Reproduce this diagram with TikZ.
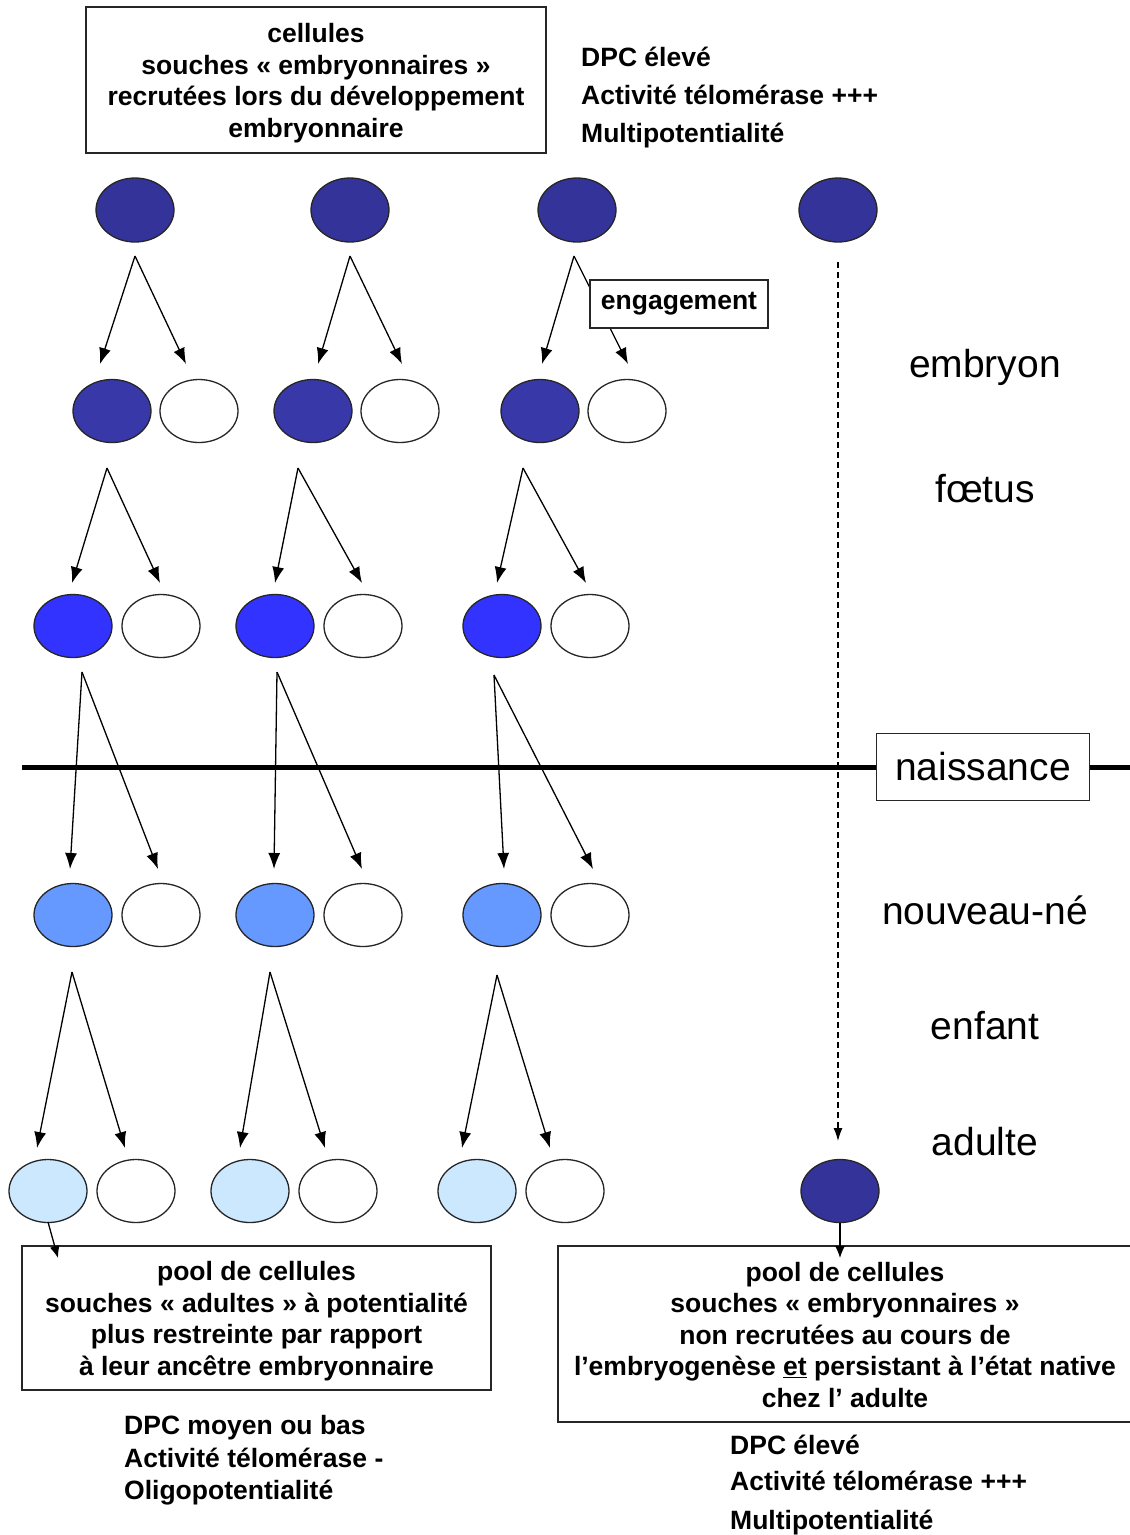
\documentclass[tikz,border=0pt]{standalone}
\usepackage{fontspec}
\setmainfont{Liberation Sans}
\usetikzlibrary{shapes.geometric,arrows.meta}
\definecolor{navy}{HTML}{333399}
\definecolor{navyb}{HTML}{3838A8}
\definecolor{bluec}{HTML}{3333FF}
\definecolor{bluem}{HTML}{6699FF}
\definecolor{bluel}{HTML}{CCE8FF}
\tikzset{
  cell/.style={ellipse, draw=black!85, line width=1.3pt, minimum width=78pt, minimum height=63pt, inner sep=0pt},
  arr/.style={line width=1.3pt, -{Latex[length=16pt,width=12pt]}},
  boxtxt/.style={font=\bfseries\fontsize{26.5}{31.5}\selectfont, align=center, inner sep=0pt},
  framebox/.style={draw=black!85, line width=1.5pt, fill=white},
  lbl/.style={font=\fontsize{39}{47}\selectfont, anchor=base, inner sep=0pt},
  info/.style={font=\bfseries\fontsize{26.5}{32}\selectfont, anchor=base west, inner sep=0pt},
}
\begin{document}
\begin{tikzpicture}[x=1pt,y=-1pt]
\useasboundingbox[fill=white] (0,0) rectangle (1130,1535);

% top box and info
\node[framebox, minimum width=460pt, minimum height=146pt] (topbox) at (316,80) {};
\node[boxtxt] (toptxt) at (316,83)
  {cellules\\souches « embryonnaires »\\recrutées lors du développement\\embryonnaire};
\node[info] (ti1) at (581,66) {DPC élevé};
\node[info] (ti2) at (581,104) {Activité télomérase +++};
\node[info] (ti3) at (581,142) {Multipotentialité};

% row 1
\node[cell, fill=navy, minimum height=64pt] (r1a) at (135,210) {};
\node[cell, fill=navy, minimum height=64pt] (r1b) at (350,210) {};
\node[cell, fill=navy, minimum height=64pt] (r1c) at (577,210) {};
\node[cell, fill=navy, minimum height=64pt] (r1d) at (838,210) {};

% row 2
\node[cell, fill=navyb] (e2a) at (112,411) {};
\node[cell, fill=white] (w2a) at (199,411) {};
\node[cell, fill=navyb] (e2b) at (313,411) {};
\node[cell, fill=white] (w2b) at (400,411) {};
\node[cell, fill=navyb] (e2c) at (540,411) {};
\node[cell, fill=white] (w2c) at (627,411) {};

% row 3
\node[cell, fill=bluec] (e3a) at (73,626) {};
\node[cell, fill=white] (w3a) at (161,626) {};
\node[cell, fill=bluec] (e3b) at (275,626) {};
\node[cell, fill=white] (w3b) at (363,626) {};
\node[cell, fill=bluec] (e3c) at (502,626) {};
\node[cell, fill=white] (w3c) at (590,626) {};

% row 4
\node[cell, fill=bluem] (e4a) at (73,915) {};
\node[cell, fill=white] (w4a) at (161,915) {};
\node[cell, fill=bluem] (e4b) at (275,915) {};
\node[cell, fill=white] (w4b) at (363,915) {};
\node[cell, fill=bluem] (e4c) at (502,915) {};
\node[cell, fill=white] (w4c) at (590,915) {};

% row 5
\node[cell, fill=bluel] (e5a) at (48,1191) {};
\node[cell, fill=white] (w5a) at (136,1191) {};
\node[cell, fill=bluel] (e5b) at (250,1191) {};
\node[cell, fill=white] (w5b) at (338,1191) {};
\node[cell, fill=bluel] (e5c) at (477,1191) {};
\node[cell, fill=white] (w5c) at (565,1191) {};
\node[cell, fill=navy] (r5d) at (840,1191) {};

% arrow coordinates
\coordinate (p1a) at (135,256); \coordinate (q1a) at (100,364); \coordinate (s1a) at (186,364);
\coordinate (p1b) at (350,256); \coordinate (q1b) at (318,364); \coordinate (s1b) at (402,364);
\coordinate (p1c) at (574,256); \coordinate (q1c) at (542,364); \coordinate (s1c) at (628,364);
\coordinate (p2a) at (107,468); \coordinate (q2a) at (72,583);  \coordinate (s2a) at (160,583);
\coordinate (p2b) at (298,468); \coordinate (q2b) at (275,583); \coordinate (s2b) at (362,583);
\coordinate (p2c) at (523,468); \coordinate (q2c) at (497,583); \coordinate (s2c) at (586,583);
\coordinate (p3a) at (82,672);  \coordinate (q3a) at (70,869);  \coordinate (s3a) at (158,869);
\coordinate (p3b) at (277,672); \coordinate (q3b) at (274,869); \coordinate (s3b) at (362,869);
\coordinate (p3c) at (494,675); \coordinate (q3c) at (504,869); \coordinate (s3c) at (593,869);
\coordinate (p4a) at (72,972);  \coordinate (q4a) at (37,1148); \coordinate (s4a) at (125,1148);
\coordinate (p4b) at (270,972); \coordinate (q4b) at (240,1148); \coordinate (s4b) at (325,1148);
\coordinate (p4c) at (497,975); \coordinate (q4c) at (462,1148); \coordinate (s4c) at (550,1148);

\foreach \r in {1,2,3,4}{
  \foreach \c in {a,b,c}{
    \draw[arr] (p\r\c) -- (q\r\c);
    \draw[arr] (p\r\c) -- (s\r\c);
  }
}

% dashed line
\coordinate (dtop) at (838,262);
\coordinate (dbot) at (838,1141);
\draw[line width=1.2pt, dash pattern=on 6pt off 4pt, -{Latex[length=13pt,width=9pt]}] (dtop) -- (dbot);

% engagement label
\node[framebox, font=\bfseries\fontsize{26.5}{31.5}\selectfont, minimum width=178pt, minimum height=48pt, inner sep=0pt] (eng) at (679,304) {engagement};

% birth line
\coordinate (bl) at (22,767);
\coordinate (br) at (1130,767);
\draw[line width=5pt] (bl) -- (br);
\node[framebox, font=\fontsize{39}{47}\selectfont, minimum width=213pt, minimum height=67pt, inner sep=0pt] (naiss) at (983,767) {naissance};

% stage labels
\node[lbl] (lemb) at (985,377) {embryon};
\node[lbl] (lfoe) at (985,502) {fœtus};
\node[lbl] (lnn) at (985,924) {nouveau-né};
\node[lbl] (lenf) at (985,1039) {enfant};
\node[lbl] (lad) at (985,1155) {adulte};

% bottom left box
\node[framebox, minimum width=469pt, minimum height=144pt] (botL) at (256.5,1318) {};
\node[boxtxt] (botLtxt) at (256.5,1321)
  {pool de cellules\\souches « adultes » à potentialité\\plus restreinte par rapport\\à leur ancêtre embryonnaire};
\node[info] (bl1) at (124,1434) {DPC moyen ou bas};
\node[info] (bl2) at (124,1467) {Activité télomérase -};
\node[info] (bl3) at (124,1499) {Oligopotentialité};

% bottom right box (open on the right edge)
\draw[draw=black!85, line width=1.5pt] (1130,1246) -- (558,1246) -- (558,1422) -- (1130,1422);
\node[boxtxt] (botR) at (845,1335)
  {pool de cellules\\souches « embryonnaires »\\non recrutées au cours de\\l’embryogenèse \underline{et} persistant à l’état native\\chez l’ adulte};
\node[info] (br1) at (730,1454) {DPC élevé};
\node[info] (br2) at (730,1490) {Activité télomérase +++};
\node[info] (br3) at (730,1529) {Multipotentialité};

% arrows to the pools
\coordinate (la1) at (48,1222); \coordinate (la2) at (58,1258);
\draw[line width=1.3pt, -{Latex[length=12pt,width=10pt]}] (la1) -- (la2);
\coordinate (ra2) at (840,1258);
\draw[line width=1.3pt, -{Latex[length=12pt,width=10pt]}] (r5d.south) -- (ra2);
\end{tikzpicture}
\end{document}
